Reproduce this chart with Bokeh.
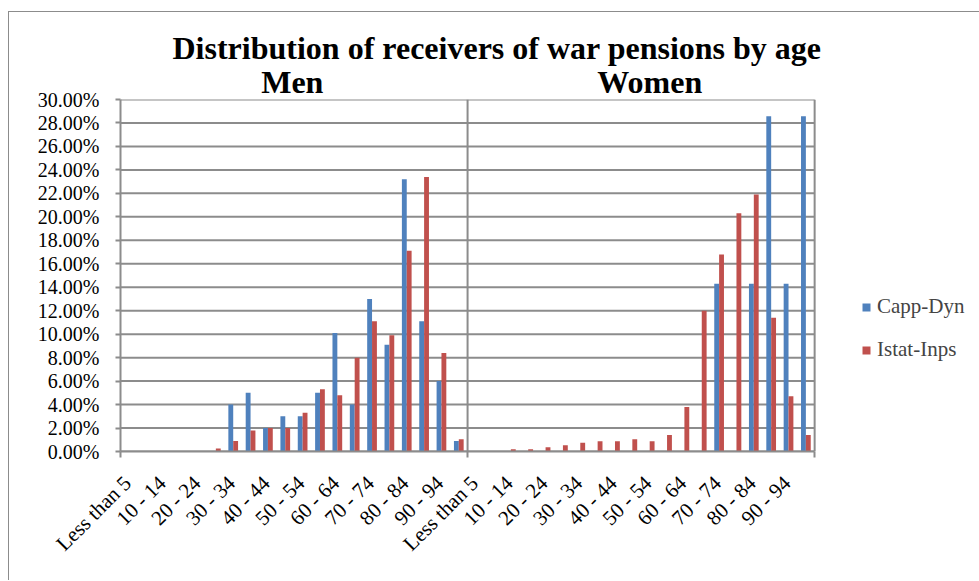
from math import pi
from bokeh.plotting import figure
from bokeh.models import (ColumnDataSource, FixedTicker, CustomJSTickFormatter,
                          PrintfTickFormatter, Legend, LegendItem, Span, LinearAxis)
from bokeh.embed import file_html
from bokeh.resources import INLINE

# ---------------- data ----------------
age_groups = ["Less than 5", "5 - 9", "10 - 14", "15 - 19", "20 - 24", "25 - 29",
              "30 - 34", "35 - 39", "40 - 44", "45 - 49", "50 - 54", "55 - 59",
              "60 - 64", "65 - 69", "70 - 74", "75 - 79", "80 - 84", "85 - 89",
              "90 - 94", "95 and over"]
panels = ["Men", "Women"]
men_capp = [0, 0, 0, 0, 0, 0, 4.0, 5.0, 2.0, 3.0, 3.0, 5.0, 10.1, 4.0, 13.0, 9.1, 23.2, 11.1, 6.0, 0.9]
men_istat = [0.02, 0.03, 0.03, 0.04, 0.05, 0.25, 0.9, 1.8, 2.0, 2.0, 3.3, 5.3, 4.8, 8.0, 11.1, 9.9, 17.1, 23.4, 8.4, 1.05]
women_capp = [0, 0, 0, 0, 0, 0, 0, 0, 0, 0, 0, 0, 0, 0, 14.29, 0, 14.29, 28.57, 14.29, 28.57]
women_istat = [0.02, 0.03, 0.2, 0.2, 0.37, 0.54, 0.74, 0.88, 0.88, 1.05, 0.88, 1.4, 3.8, 12.0, 16.8, 20.3, 21.9, 11.4, 4.7, 1.4]
series_names = ["Capp-Dyn", "Istat-Inps"]
title_text = "Distribution of receivers of war pensions by age"
y_ticks = list(range(0, 31, 2))

# ---------------- styling ----------------
BLUE = "#4F81BD"
RED = "#C0504D"
GREY = "#8C8C8C"
FONT = "Liberation Serif"
n = len(age_groups)
n_all = 2 * n

capp_all = men_capp + women_capp
istat_all = men_istat + women_istat
centers = [i + 0.5 for i in range(n_all)]
src_capp = ColumnDataSource(dict(x=[c - 0.145 for c in centers], top=capp_all))
src_istat = ColumnDataSource(dict(x=[c + 0.135 for c in centers], top=istat_all))

# the frame runs on to the right edge so the legend can sit inside it;
# the plot area proper is x = 0 .. n_all
p = figure(width=979, height=580, x_range=(0, 49.5), y_range=(0, 30),
           output_backend="svg", toolbar_location=None,
           min_border_left=120, min_border_right=0,
           min_border_top=99, min_border_bottom=129)
p.background_fill_color = "white"
p.border_fill_alpha = 0
p.outline_line_color = None
# chart-area border of the original (only top and left edges are in view)
p.styles = {
    "background": ("linear-gradient(#8C8C8C,#8C8C8C) 8px 11px / 1px 100% no-repeat, "
                   "linear-gradient(#8C8C8C,#8C8C8C) 8px 11px / 100% 1px no-repeat, white"),
}

# horizontal gridlines limited to the plot area
p.segment(x0=[0] * len(y_ticks), x1=[n_all] * len(y_ticks), y0=y_ticks, y1=y_ticks,
          line_color=GREY, line_width=2)

r1 = p.vbar(x="x", top="top", width=0.28, source=src_capp, fill_color=BLUE, line_color=None)
r2 = p.vbar(x="x", top="top", width=0.28, source=src_istat, fill_color=RED, line_color=None)

# divider between the two panels and right edge of the plot area
p.add_layout(Span(location=n, dimension="height", line_color=GREY, line_width=2))
p.add_layout(Span(location=n_all, dimension="height", line_color=GREY, line_width=2))

# title
p.title.text = title_text
p.title.text_font = FONT
p.title.text_font_style = "bold"
p.title.text_font_size = "32px"
p.title.text_color = "black"
p.title.align = "left"
p.title.offset = 52
p.title.standoff = -10

# y axis
p.yaxis.ticker = FixedTicker(ticks=y_ticks)
p.yaxis.formatter = PrintfTickFormatter(format="%.2f%%")
p.yaxis.major_label_text_font = FONT
p.yaxis.major_label_text_font_size = "20px"
p.yaxis.major_label_text_color = "black"
p.yaxis.major_tick_out = 5
p.yaxis.major_tick_in = 0
p.yaxis.minor_tick_line_color = None
p.yaxis.major_tick_line_color = GREY
p.yaxis.major_tick_line_width = 2
p.yaxis.axis_line_color = GREY
p.yaxis.axis_line_width = 2
p.yaxis.major_label_standoff = 16
p.grid.grid_line_color = None

# x axis (category labels, every other age group; short marks at panel edges)
p.xaxis.ticker = FixedTicker(ticks=[i + 0.4 for i in range(0, n_all, 2)],
                             minor_ticks=[0, n, n_all])
p.xaxis.formatter = CustomJSTickFormatter(args=dict(labels=age_groups, n=n),
                                          code="return labels[Math.floor(tick) % n];")
p.xaxis.bounds = (0, n_all)
p.xaxis.major_label_orientation = pi / 4
p.xaxis.major_label_text_font = FONT
p.xaxis.major_label_text_font_size = "21px"
p.xaxis.major_label_text_color = "black"
p.xaxis.major_tick_line_color = None
p.xaxis.major_tick_out = 0
p.xaxis.major_tick_in = 0
p.xaxis.minor_tick_line_color = GREY
p.xaxis.minor_tick_line_width = 2
p.xaxis.minor_tick_out = 6
p.xaxis.minor_tick_in = 0
p.xaxis.axis_line_color = GREY
p.xaxis.axis_line_width = 2
p.xaxis.major_label_standoff = 22

# panel headings (Men / Women) as an axis above the frame
top_axis = LinearAxis(ticker=FixedTicker(ticks=[9.9, 30.5]),
                      formatter=CustomJSTickFormatter(args=dict(panels=panels, n=n),
                                                      code="return tick < n ? panels[0] : panels[1];"))
top_axis.axis_line_color = None
top_axis.major_tick_line_color = None
top_axis.minor_tick_line_color = None
top_axis.major_tick_out = 0
top_axis.major_tick_in = 0
top_axis.major_label_text_font = FONT
top_axis.major_label_text_font_style = "bold"
top_axis.major_label_text_font_size = "32px"
top_axis.major_label_text_color = "black"
top_axis.major_label_standoff = 0
p.add_layout(top_axis, "above")

legend = Legend(items=[LegendItem(label=series_names[0], renderers=[r1]),
                       LegendItem(label=series_names[1], renderers=[r2])],
                location=(741, 89))
legend.border_line_color = None
legend.background_fill_alpha = 0
legend.label_text_font = FONT
legend.label_text_font_size = "21px"
legend.glyph_width = 10
legend.glyph_height = 10
legend.label_standoff = 6
legend.spacing = 18
legend.padding = 0
legend.margin = 0
p.add_layout(legend)

open("out.html", "w").write(file_html(p, INLINE))
